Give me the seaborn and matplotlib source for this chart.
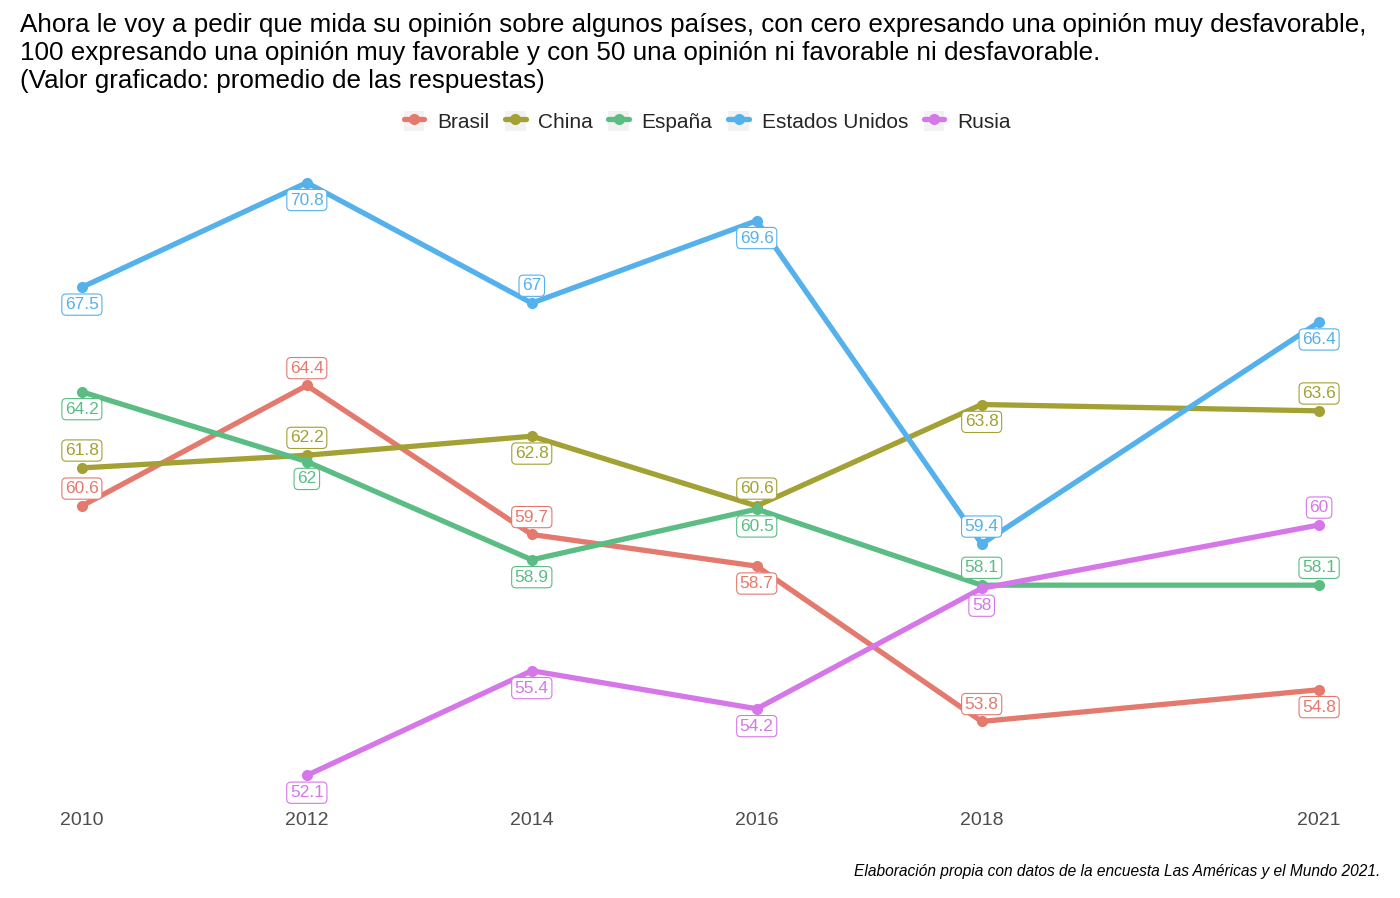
import matplotlib

matplotlib.use("Agg")

import matplotlib.pyplot as plt
import pandas as pd
import seaborn as sns
from matplotlib.legend_handler import HandlerTuple
from matplotlib.patches import Patch

years = [2010, 2012, 2014, 2016, 2018, 2021]
countries = ["Brasil", "China", "España", "Estados Unidos", "Rusia"]

brasil = [60.6, 64.4, 59.7, 58.7, 53.8, 54.8]
china = [61.8, 62.2, 62.8, 60.6, 63.8, 63.6]
espana = [64.2, 62.0, 58.9, 60.5, 58.1, 58.1]
estados_unidos = [67.5, 70.8, 67.0, 69.6, 59.4, 66.4]
rusia = [None, 52.1, 55.4, 54.2, 58.0, 60.0]

# label side per point: 1 = above, -1 = below (mimics the repel layout)
label_side = {
    "Brasil": [1, 1, 1, -1, 1, -1],
    "China": [1, 1, -1, 1, -1, 1],
    "España": [-1, -1, -1, -1, 1, 1],
    "Estados Unidos": [-1, -1, 1, -1, 1, -1],
    "Rusia": [0, -1, -1, -1, -1, 1],
}

palette = {
    "Brasil": "#E4796E",
    "China": "#A3A133",
    "España": "#5BBD84",
    "Estados Unidos": "#55B1EC",
    "Rusia": "#D577E8",
}

series = [brasil, china, espana, estados_unidos, rusia]
rows = []
for name, values in zip(countries, series):
    for year, value in zip(years, values):
        if value is not None:
            rows.append({"year": year, "country": name, "value": value})
frame = pd.DataFrame(rows)

sns.set_theme(style="white")
plt.rcParams["font.family"] = ["Liberation Sans", "DejaVu Sans"]

fig = plt.figure(figsize=(14, 8.98), dpi=100)
ax = fig.add_axes([0.0143, 0.1036, 0.9721, 0.726])

sns.lineplot(
    data=frame, x="year", y="value", hue="country", hue_order=countries,
    palette=palette, linewidth=3.8, marker="o", markersize=8,
    markeredgewidth=0, ax=ax, legend=True,
)

for name, values in zip(countries, series):
    for i, (year, value) in enumerate(zip(years, values)):
        if value is None:
            continue
        side = label_side[name][i]
        ax.annotate(
            f"{value:g}", (year, value), xytext=(0, 12.5 * side), textcoords="offset points",
            ha="center", va="center", fontsize=12.5, color=palette[name], zorder=5,
            bbox=dict(boxstyle="round,pad=0.18,rounding_size=0.25", fc="white",
                      ec=palette[name], lw=0.8),
        )

ax.set_xlim(2009.45, 2021.55)
ax.set_ylim(51.165, 71.735)
ax.set_xticks(years)
ax.set_xticklabels([str(y) for y in years], fontsize=14, color="#4D4D4D")
ax.tick_params(axis="x", length=0, pad=5)
ax.set_yticks([])
ax.set_xlabel("")
ax.set_ylabel("")
sns.despine(ax=ax, left=True, bottom=True)

handles, labels = ax.get_legend_handles_labels()
ax.get_legend().remove()
keys = [(Patch(fc="#F2F2F2", ec="none"), h) for h in handles]
fig.legend(
    keys, labels, loc="center", bbox_to_anchor=(0.505, 0.865), ncol=5,
    frameon=False, fontsize=15, handlelength=1.0, handleheight=1.1,
    handletextpad=0.6, columnspacing=0.75,
    handler_map={tuple: HandlerTuple(ndivide=1, pad=0)},
)

fig.text(
    0.0143, 0.985,
    "Ahora le voy a pedir que mida su opinión sobre algunos países, con cero expresando una opinión muy desfavorable,\n"
    "100 expresando una opinión muy favorable y con 50 una opinión ni favorable ni desfavorable.\n"
    "(Valor graficado: promedio de las respuestas)",
    ha="left", va="top", fontsize=18.7, linespacing=1.2, color="black",
)
fig.text(
    0.986, 0.03,
    "Elaboración propia con datos de la encuesta Las Américas y el Mundo 2021.",
    ha="right", va="center", fontsize=11.2, style="italic", color="black",
)

fig.savefig("out.png", dpi=100)
